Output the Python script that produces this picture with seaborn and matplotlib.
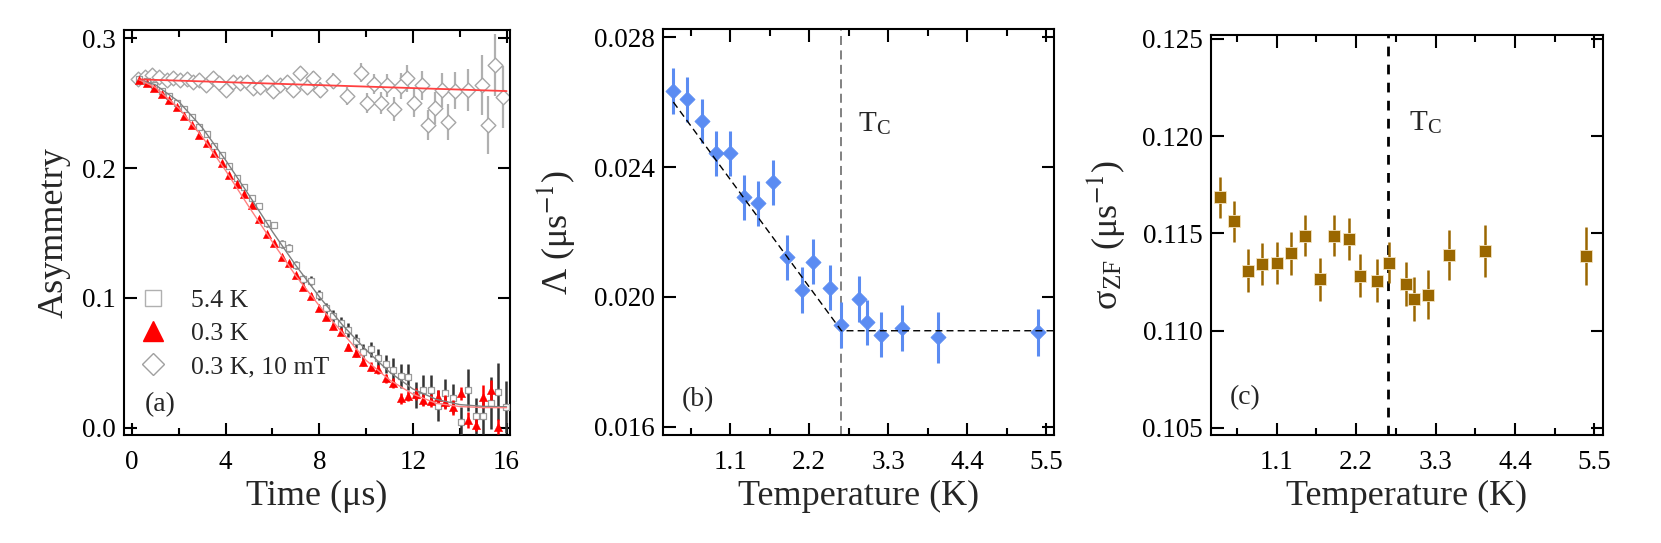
import numpy as np
import pandas as pd
import matplotlib
matplotlib.use('Agg')
import matplotlib.pyplot as plt
from matplotlib.ticker import MultipleLocator, FormatStrFormatter, FixedLocator
from matplotlib.lines import Line2D
import seaborn as sns

# ---- panel (a): asymmetry spectra ----
time_03K = [0.31, 0.63, 0.95, 1.27, 1.59, 1.91, 2.23, 2.55, 2.88, 3.19,
            3.52, 3.83, 4.14, 4.47, 4.78, 5.11, 5.42, 5.75, 6.06, 6.39,
            6.70, 7.00, 7.32, 7.64, 7.97, 8.28, 8.60, 8.91, 9.24, 9.55,
            9.88, 10.19, 10.52, 10.83, 11.16, 11.47, 11.80, 12.11, 12.44, 12.75,
            13.08, 13.39, 13.72, 14.04, 14.37, 14.68, 15.00, 15.32, 15.64]
asym_03K = [0.2677, 0.2651, 0.2613, 0.2569, 0.2523, 0.2467, 0.2403, 0.2331, 0.2254, 0.2190,
            0.2113, 0.2041, 0.1946, 0.1877, 0.1800, 0.1712, 0.1605, 0.1492, 0.1421, 0.1313,
            0.1267, 0.1177, 0.1082, 0.1015, 0.0920, 0.0856, 0.0785, 0.0741, 0.0621, 0.0575,
            0.0510, 0.0472, 0.0451, 0.0382, 0.0344, 0.0228, 0.0246, 0.0262, 0.0215, 0.0210,
            0.0241, 0.0200, 0.0159, 0.0267, 0.0062, 0.0023, 0.0241, 0.0292, 0.0010]
err_03K = [0.0008, 0.0008, 0.0008, 0.0009, 0.0009, 0.0009, 0.0010, 0.0010, 0.0010, 0.0011,
           0.0011, 0.0012, 0.0012, 0.0013, 0.0013, 0.0014, 0.0015, 0.0015, 0.0016, 0.0017,
           0.0018, 0.0019, 0.0020, 0.0021, 0.0022, 0.0023, 0.0024, 0.0026, 0.0027, 0.0029,
           0.0030, 0.0032, 0.0034, 0.0036, 0.0038, 0.0040, 0.0042, 0.0044, 0.0047, 0.0050,
           0.0052, 0.0055, 0.0058, 0.0050, 0.0064, 0.0045, 0.0090, 0.0077, 0.0060]

time_54K = [0.31, 0.63, 0.95, 1.27, 1.59, 1.91, 2.23, 2.55, 2.88, 3.19,
            3.52, 3.83, 4.14, 4.47, 4.78, 5.11, 5.42, 5.75, 6.06, 6.39,
            6.70, 7.00, 7.32, 7.64, 7.97, 8.28, 8.60, 8.91, 9.24, 9.55,
            9.88, 10.19, 10.52, 10.83, 11.16, 11.47, 11.80, 12.11, 12.44, 12.75,
            13.08, 13.39, 13.72, 14.04, 14.37, 14.68, 15.00, 15.32, 15.64, 15.96]
asym_54K = [0.2682, 0.2672, 0.2638, 0.2592, 0.2554, 0.2502, 0.2451, 0.2390, 0.2318, 0.2262,
            0.2169, 0.2100, 0.2018, 0.1921, 0.1856, 0.1767, 0.1710, 0.1574, 0.1562, 0.1415,
            0.1382, 0.1254, 0.1144, 0.1133, 0.1023, 0.0920, 0.0862, 0.0805, 0.0754, 0.0669,
            0.0587, 0.0605, 0.0541, 0.0490, 0.0446, 0.0400, 0.0390, 0.0254, 0.0292, 0.0292,
            0.0172, 0.0267, 0.0228, 0.0049, 0.0292, 0.0092, 0.0092, 0.0190, 0.0279, 0.0164]
err_54K = [0.0010, 0.0010, 0.0011, 0.0011, 0.0012, 0.0012, 0.0013, 0.0014, 0.0015, 0.0016,
           0.0017, 0.0018, 0.0019, 0.0020, 0.0021, 0.0022, 0.0023, 0.0024, 0.0026, 0.0028,
           0.0030, 0.0032, 0.0034, 0.0036, 0.0042, 0.0045, 0.0048, 0.0051, 0.0054, 0.0056,
           0.0057, 0.0058, 0.0064, 0.0070, 0.0090, 0.0096, 0.0100, 0.0103, 0.0115, 0.0115,
           0.0120, 0.0110, 0.0110, 0.0115, 0.0160, 0.0140, 0.0140, 0.0200, 0.0220, 0.0200]

time_tf = [0.27, 0.55, 0.84, 1.17, 1.48, 1.77, 2.05, 2.33, 2.59, 2.88,
           3.16, 3.44, 3.73, 4.01, 4.33, 4.61, 4.90, 5.18, 5.47, 5.75,
           6.03, 6.32, 6.60, 6.89, 7.17, 7.46, 7.74, 8.03, 8.60, 9.19,
           9.76, 10.05, 10.33, 10.62, 10.90, 11.19, 11.47, 11.76, 12.04, 12.37,
           12.65, 12.94, 13.22, 13.51, 13.79, 14.36, 14.93, 15.21, 15.50, 15.86]
asym_tf = [0.2682, 0.2703, 0.2715, 0.2697, 0.2677, 0.2690, 0.2677, 0.2682, 0.2664, 0.2677,
           0.2638, 0.2690, 0.2651, 0.2600, 0.2664, 0.2651, 0.2664, 0.2613, 0.2626, 0.2664,
           0.2592, 0.2638, 0.2664, 0.2600, 0.2728, 0.2626, 0.2690, 0.2600, 0.2672, 0.2554,
           0.2733, 0.2503, 0.2646, 0.2503, 0.2638, 0.2451, 0.2631, 0.2690, 0.2503, 0.2638,
           0.2331, 0.2459, 0.2600, 0.2356, 0.2595, 0.2600, 0.2638, 0.2331, 0.2792, 0.2544]
err_tf = [0.0015, 0.0015, 0.0016, 0.0017, 0.0018, 0.0019, 0.0020, 0.0021, 0.0022, 0.0023,
          0.0024, 0.0025, 0.0027, 0.0028, 0.0030, 0.0031, 0.0033, 0.0035, 0.0036, 0.0038,
          0.0040, 0.0042, 0.0045, 0.0047, 0.0050, 0.0052, 0.0055, 0.0058, 0.0062, 0.0068,
          0.0072, 0.0076, 0.0080, 0.0084, 0.0088, 0.0092, 0.0097, 0.0102, 0.0107, 0.0112,
          0.0118, 0.0124, 0.0130, 0.0137, 0.0144, 0.0160, 0.0230, 0.0220, 0.0240, 0.0240]

fit_time = [0.3, 1, 2, 3, 4, 5, 6, 7, 8, 9, 10, 11, 12, 13, 14, 15, 16]
fit_54K = [0.2680, 0.2640, 0.2510, 0.2310, 0.2060, 0.1790, 0.1510, 0.1250, 0.1010,
           0.0790, 0.0600, 0.0430, 0.0300, 0.0220, 0.0180, 0.0166, 0.0163]
fit_03K = [0.2680, 0.2620, 0.2460, 0.2240, 0.1980, 0.1700, 0.1430, 0.1170, 0.0940,
           0.0730, 0.0520, 0.0370, 0.0260, 0.0190, 0.0165, 0.0157, 0.0156]
fit_tf_time = [0.3, 16.0]
fit_tf = [0.2682, 0.2592]

# ---- panels (b) and (c): temperature dependence ----
temps = [0.31, 0.505, 0.705, 0.90, 1.10, 1.30, 1.49, 1.695, 1.895, 2.10,
         2.25, 2.49, 2.65, 2.89, 3.00, 3.195, 3.49, 3.99, 5.385]
lam = [0.02634, 0.02608, 0.02542, 0.02442, 0.02442, 0.02307, 0.02288, 0.02353, 0.02122, 0.02022,
       0.02109, 0.02029, 0.01914, 0.01993, 0.01922, 0.01884, 0.01904, 0.01876, 0.01891]
lam_err = [0.00071, 0.00070, 0.00068, 0.00070, 0.00070, 0.00070, 0.00070, 0.00069, 0.00070, 0.00070,
           0.00070, 0.00068, 0.00070, 0.00070, 0.00070, 0.00070, 0.00070, 0.00079, 0.00072]
lam_fit_T = [0.31, 2.65, 5.61]
lam_fit = [0.02600, 0.01896, 0.01896]

sigma = [0.11685, 0.11562, 0.11308, 0.11342, 0.11349, 0.11397, 0.11488, 0.11265, 0.11488, 0.11471,
         0.11283, 0.11257, 0.11349, 0.11240, 0.11163, 0.11185, 0.11390, 0.11408, 0.11384]
sigma_err = [0.00104, 0.00107, 0.00111, 0.00108, 0.00108, 0.00108, 0.00105, 0.00111, 0.00105, 0.00107,
             0.00110, 0.00110, 0.00105, 0.00111, 0.00113, 0.00126, 0.00127, 0.00134, 0.00149]
Tc = 2.64

sns.set_theme(style='ticks')
plt.rcParams['font.family'] = ['Liberation Serif', 'DejaVu Serif']
plt.rcParams['mathtext.fontset'] = 'stix'
plt.rcParams['axes.linewidth'] = 1.5

fig = plt.figure(figsize=(16.61, 5.43), dpi=100)
ax_a = fig.add_axes([0.0747, 0.1989, 0.2324, 0.7459])
ax_b = fig.add_axes([0.3992, 0.1989, 0.2354, 0.7477])
ax_c = fig.add_axes([0.7291, 0.1989, 0.2360, 0.7366])

for ax in (ax_a, ax_b, ax_c):
    ax.tick_params(which='both', direction='in', top=True, right=True,
                   width=1.5, colors='black', labelsize=19.5)
    ax.tick_params(which='major', length=9)
    ax.tick_params(which='minor', length=5)
    ax.tick_params(axis='y', pad=6)
    ax.tick_params(axis='x', pad=10.5)
    for s in ax.spines.values():
        s.set_color('black')
        s.set_linewidth(1.5)

# ---- (a) ----
gray_pt = '#a6a6a6'
ax_a.errorbar(time_tf, asym_tf, yerr=err_tf, fmt='none', ecolor='#b0b0b0',
              elinewidth=1.6, zorder=1)
sns.scatterplot(x=time_tf, y=asym_tf, ax=ax_a, marker='D', s=56, color='white',
                edgecolor=gray_pt, linewidth=1.0, zorder=2)
ax_a.errorbar(time_54K, asym_54K, yerr=err_54K, fmt='none', ecolor='#333333',
              elinewidth=1.8, zorder=3)
sns.scatterplot(x=time_54K, y=asym_54K, ax=ax_a, marker='s', s=20, color='white',
                edgecolor='#9a9a9a', linewidth=0.9, zorder=4)
ax_a.errorbar(time_03K, asym_03K, yerr=err_03K, fmt='none', ecolor='red',
              elinewidth=1.8, zorder=5)
sns.scatterplot(x=time_03K, y=asym_03K, ax=ax_a, marker='^', s=36, color='red',
                edgecolor='red', linewidth=0.3, zorder=6)
sns.lineplot(x=fit_time, y=fit_54K, ax=ax_a, color='#7f7f7f', lw=1.0,
             estimator=None, sort=False, zorder=7)
sns.lineplot(x=fit_time, y=fit_03K, ax=ax_a, color='#ff8080', lw=1.0,
             estimator=None, sort=False, zorder=7)
sns.lineplot(x=fit_tf_time, y=fit_tf, ax=ax_a, color='#ff4040', lw=1.3,
             estimator=None, sort=False, zorder=7)

ax_a.set_xlim(-0.34, 16.15)
ax_a.set_ylim(-0.0054, 0.3062)
ax_a.xaxis.set_major_locator(MultipleLocator(4))
ax_a.xaxis.set_minor_locator(MultipleLocator(2))
ax_a.yaxis.set_major_locator(MultipleLocator(0.1))
ax_a.yaxis.set_major_formatter(FormatStrFormatter('%.1f'))
ax_a.set_xlabel('Time (μs)', fontsize=26, labelpad=4)
ax_a.set_ylabel('Asymmetry', fontsize=26, labelpad=8)

handles = [
    Line2D([], [], ls='none', marker='s', ms=12, mfc='white', mec='#b0b0b0', mew=1.0),
    Line2D([], [], ls='none', marker='^', ms=14, mfc='red', mec='red'),
    Line2D([], [], ls='none', marker='D', ms=11, mfc='white', mec='#a0a0a0', mew=1.0),
]
ax_a.legend(handles, ['5.4 K', '0.3 K', '0.3 K, 10 mT'], loc='center left',
            bbox_to_anchor=(0.008, 0.25), frameon=False, fontsize=18.5,
            handlelength=1.0, handletextpad=1.0, labelspacing=0.38, borderpad=0)
ax_a.text(0.054, 0.075, '(a)', transform=ax_a.transAxes, fontsize=20,
          va='center', ha='left')

# ---- (b) ----
blue = '#5b8cf2'
ax_b.errorbar(temps, lam, yerr=lam_err, fmt='none', ecolor=blue,
              elinewidth=2.2, zorder=2)
sns.scatterplot(x=temps, y=lam, ax=ax_b, marker='D', s=60, color=blue,
                edgecolor=blue, linewidth=0.5, zorder=3)
sns.lineplot(x=lam_fit_T, y=lam_fit, ax=ax_b, color='black', lw=1.0,
             estimator=None, sort=False, zorder=4, dashes=(5, 3))
ax_b.axvline(Tc, color='#777777', lw=1.3, ls=(0, (5, 3)), zorder=1)
ax_b.set_xlim(0.167, 5.61)
ax_b.set_ylim(0.01575, 0.02825)
ax_b.xaxis.set_major_locator(MultipleLocator(1.1))
ax_b.xaxis.set_minor_locator(MultipleLocator(0.55))
ax_b.xaxis.set_major_formatter(FormatStrFormatter('%.1f'))
ax_b.yaxis.set_major_locator(FixedLocator([0.016, 0.020, 0.024, 0.028]))
ax_b.yaxis.set_major_formatter(FormatStrFormatter('%.3f'))
ax_b.set_xlabel('Temperature (K)', fontsize=26, labelpad=4)
ax_b.set_ylabel('Λ (μs$^{-1}$)', fontsize=26, labelpad=12)
ax_b.text(2.88, 0.02535, r'T$_\mathregular{C}$', fontsize=21, va='center', ha='left')
ax_b.text(0.049, 0.086, '(b)', transform=ax_b.transAxes, fontsize=20,
          va='center', ha='left')

# ---- (c) ----
brown = '#9a6700'
ax_c.errorbar(temps, sigma, yerr=sigma_err, fmt='none', ecolor=brown,
              elinewidth=1.8, zorder=2)
sns.scatterplot(x=temps, y=sigma, ax=ax_c, marker='s', s=66, color=brown,
                edgecolor='#f3e3c0', linewidth=0.6, zorder=3)
ax_c.axvline(Tc, color='black', lw=2.0, ls=(0, (3.5, 3)), zorder=1)
ax_c.set_xlim(0.19, 5.62)
ax_c.set_ylim(0.10464, 0.1252)
ax_c.xaxis.set_major_locator(MultipleLocator(1.1))
ax_c.xaxis.set_minor_locator(MultipleLocator(0.55))
ax_c.xaxis.set_major_formatter(FormatStrFormatter('%.1f'))
ax_c.yaxis.set_major_locator(FixedLocator([0.105, 0.110, 0.115, 0.120, 0.125]))
ax_c.yaxis.set_major_formatter(FormatStrFormatter('%.3f'))
ax_c.set_xlabel('Temperature (K)', fontsize=26, labelpad=4)
ax_c.set_ylabel('σ$_{\\mathregular{ZF}}$ (μs$^{-1}$)', fontsize=26, labelpad=11)
ax_c.text(2.93, 0.1207, r'T$_\mathregular{C}$', fontsize=21, va='center', ha='left')
ax_c.text(0.048, 0.0925, '(c)', transform=ax_c.transAxes, fontsize=20,
          va='center', ha='left')

fig.savefig('out.png', dpi=100)
